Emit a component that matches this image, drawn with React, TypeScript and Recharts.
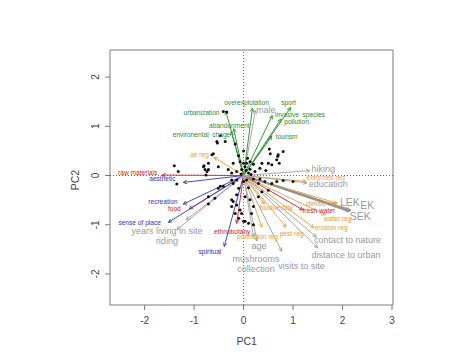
import React from 'react';
import { ScatterChart, Scatter, XAxis, YAxis, ReferenceLine, ReferenceArea } from 'recharts';

// variable loadings (arrow tips) and label anchors, in PC units
const varNames = [
  'urbanization', 'overexplotation', 'male', 'sport', 'invasive  species', 'pollution',
  'abandonment', 'environental  chage', 'tourism', 'air reg', 'raw materials', 'aesthetic',
  'recreation', 'food', 'sense of place', 'years living in site', 'riding', 'spiritual',
  'ethnobotany', 'pollination reg', 'age', 'mushrooms\ncollection', 'visits to site', 'pest reg',
  'biodiversity', 'distance to urban', 'contact to nature', 'erosion reg', 'water reg',
  'fresh water', 'climate reg', 'LEK', 'EK', 'SEK', 'extremes reg', 'hiking', 'education',
];
const varGroup = [
  'drv', 'drv', 'soc', 'drv', 'drv', 'drv',
  'drv', 'drv', 'drv', 'reg', 'prov', 'cul',
  'cul', 'prov', 'cul', 'soc', 'soc', 'cul',
  'prov', 'reg', 'soc', 'soc', 'soc', 'reg',
  'reg', 'soc', 'soc', 'reg', 'reg',
  'prov', 'reg', 'kn', 'kn', 'kn', 'reg', 'soc', 'soc',
];
const varPC1 = [
  -0.36, 0.18, 0.24, 0.95, 0.58, 0.76,
  -0.2, -0.25, 0.57, -0.6, -1.65, -1.22,
  -1.22, -1.1, -1.52, -1.35, -1.16, -0.39,
  -0.14, 0.37, 0.2, 0.27, 0.77, 0.86,
  0.42, 1.5, 1.47, 1.42, 1.65,
  1.2, 1.88, 2.12, 2.17, 2.14, 1.26, 1.34, 1.28,
];
const varPC2 = [
  1.31, 1.37, 1.32, 1.38, 1.22, 1.15,
  0.95, 0.89, 0.8, 0.37, 0.01, -0.14,
  -0.58, -0.68, -0.95, -1.1, -0.9, -1.44,
  -0.97, -1.05, -1.25, -1.33, -1.54, -1.05,
  -0.58, -1.47, -1.25, -1.06, -0.8,
  -0.7, -0.56, -0.69, -0.71, -0.73, -0.12, 0.1, -0.15,
];
const labelPC1 = [
  -0.85, 0.06, 0.45, 0.91, 1.14, 1.07,
  -0.29, -0.85, 0.87, -0.89, -2.14, -1.64,
  -1.63, -1.4, -2.1, -1.55, -1.55, -0.68,
  -0.23, 0.28, 0.31, 0.25, 1.17, 0.97,
  0.66, 2.07, 2.1, 1.77, 1.9,
  1.52, 1.58, 2.15, 2.5, 2.36, 1.66, 1.61, 1.71,
];
const labelPC2 = [
  1.3, 1.49, 1.34, 1.5, 1.26, 1.1,
  1.02, 0.85, 0.81, 0.43, 0.08, -0.05,
  -0.51, -0.66, -0.94, -1.12, -1.32, -1.54,
  -1.12, -1.23, -1.43, -1.8, -1.83, -1.17,
  -0.63, -1.62, -1.31, -1.05, -0.87,
  -0.71, -0.55, -0.53, -0.6, -0.83, -0.03, 0.14, -0.18,
];

// observation scores
const obsPC1 = [
  -0.41, -0.34, -0.47, -0.37, -0.54, -0.53, -0.17, -0.61, -0.64, -0.71, -0.8, -0.81, -0.78, -0.71, -0.76,
  -1.4, -1.32, -1.35, -0.51, -0.74,
  -0.21, -0.07, 0, 0.06, 0.13, 0.2, 0.37, 0.33, 0.23, 0.13, 0.03, -0.04, -0.14, -0.24, -0.31, 0.1, 0.05,
  -0.05, 0.15, 0.08, -0.1, 0.0,
  0.52, 0.54, 0.69, 0.8, 0.72, 0.5, 0.57, 0.67, 0.7, 0.45,
  -0.24, -0.21, -0.14, -0.1, 0, 0.06, 0.2, 0.3, 0.33, 0.43, 0.57, 0.67, -0.41, -0.51, -0.58, -0.71, -0.71,
  -0.47, -0.14, -0.21, -0.24, -0.14, -0.07, -0.17, -0.1, 0, 0.1, 0.2, 0.3, 0.37, 0.13, 0.03, -0.04, 0.16,
  0.2, 0.03, -0.24, 0.1, 0.5, 0.8, 1.0,
];
const obsPC2 = [
  1.3, 1.29, 0.81, 0.69, 0.69, 0.66, 0.64, 0.44, 0.42, 0.25, 0.2, 0.18, 0.12, 0.12, 0.01,
  0.2, 0.08, -0.17, 0.18, 0.08,
  0.25, 0.28, 0.25, 0.25, 0.28, 0.23, 0.25, 0.15, 0.08, 0.13, 0.18, 0.12, 0.08, 0.05, 0.12, 0.05, 0.1,
  0.03, 0.02, 0.35, 0.4, 0.5,
  0.54, 0.44, 0.39, 0.49, 0.25, 0.25, 0.22, 0.32, 0.42, 0.1,
  -0.09, -0.16, -0.09, -0.26, -0.12, -0.09, -0.07, -0.16, -0.07, -0.12, -0.16, -0.12, -0.22, -0.26, -0.46, -0.43, -0.58,
  -0.22, -0.39, -0.53, -0.63, -0.6, -0.7, -0.77, -0.87, -0.93, -0.97, -0.63, -0.43, -0.33, -0.49, -0.43, -0.77, -0.77,
  -1.0, -0.93, -0.49, -0.25, -0.3, -0.1, -0.12,
];

const xTicks = [-2, -1, 0, 1, 2, 3];
const yTicks = [-2, -1, 0, 1, 2];
const xDomain = [-2.7, 3.02];
const yDomain = [-2.63, 2.55];

const groupText: Record<string, string> = {
  drv: '#2e8b2e', cul: '#3232c0', prov: '#cc2424', reg: '#e6a030', soc: '#999999', kn: '#999999',
};
const groupLine: Record<string, string> = {
  drv: '#3a9a3a', cul: '#4646c8', prov: '#cc3838', reg: '#e8aa50', soc: '#a8a8a8', kn: '#939393',
};
const groupSize: Record<string, number> = {
  drv: 6.6, cul: 6.6, prov: 6.6, reg: 6.6, soc: 9, kn: 10.5,
};

const FONT = '"Liberation Sans", Arial, sans-serif';

const obsData = obsPC1.map((x, i) => ({ x, y: obsPC2[i] }));
const labelData = varNames.map((name, i) => ({ x: labelPC1[i], y: labelPC2[i], name, group: varGroup[i] }));

const makeArrow = (color: string, width: number) => (props: any) => {
  const { x1, y1, x2, y2 } = props;
  const ang = Math.atan2(y2 - y1, x2 - x1);
  const len = 4;
  const a1 = ang + Math.PI - 0.45;
  const a2 = ang + Math.PI + 0.45;
  return (
    <g>
      <line x1={x1} y1={y1} x2={x2} y2={y2} stroke={color} strokeWidth={width} />
      <line x1={x2} y1={y2} x2={x2 + len * Math.cos(a1)} y2={y2 + len * Math.sin(a1)} stroke={color} strokeWidth={1} />
      <line x1={x2} y1={y2} x2={x2 + len * Math.cos(a2)} y2={y2 + len * Math.sin(a2)} stroke={color} strokeWidth={1} />
    </g>
  );
};

const Dot = (p: any) => <circle cx={p.cx} cy={p.cy} r={1.5} fill="#111" />;

const Label = (p: any) => {
  const d = p.payload;
  const lines: string[] = String(d.name).split('\n');
  const fs = groupSize[d.group];
  const off = ((lines.length - 1) * fs * 1.15) / 2;
  return (
    <text
      x={p.cx}
      y={p.cy - off}
      fill={groupText[d.group]}
      fontSize={fs}
      fontFamily={FONT}
      textAnchor="middle"
      dominantBaseline="central"
      style={{ whiteSpace: 'pre' }}
    >
      {lines.map((l, i) => (
        <tspan key={i} x={p.cx} dy={i === 0 ? 0 : fs * 1.15}>{l}</tspan>
      ))}
    </text>
  );
};

const YTick = (p: any) => (
  <text
    x={p.x}
    y={p.y}
    transform={`rotate(-90 ${p.x} ${p.y})`}
    textAnchor="middle"
    fill="#444"
    fontSize={10}
    fontFamily={FONT}
  >
    {p.payload.value}
  </text>
);

export default function App() {
  return (
    <ScatterChart width={466} height={347} margin={{ top: 42, right: 81, bottom: 0, left: 0 }}>
      <XAxis
        type="number"
        dataKey="x"
        domain={xDomain}
        allowDataOverflow
        ticks={xTicks}
        interval={0}
        axisLine={false}
        tickLine={{ stroke: '#777' }}
        tickSize={5}
        tickMargin={7}
        tick={{ fill: '#444', fontSize: 10, fontFamily: FONT }}
        height={50}
      />
      <YAxis
        type="number"
        dataKey="y"
        domain={yDomain}
        allowDataOverflow
        ticks={yTicks}
        interval={0}
        axisLine={false}
        tickLine={{ stroke: '#777' }}
        tickSize={5}
        tickMargin={6}
        tick={<YTick />}
        width={102}
      />
      <ReferenceArea
        x1={xDomain[0]}
        x2={xDomain[1]}
        y1={yDomain[0]}
        y2={yDomain[1]}
        fill="none"
        fillOpacity={0}
        stroke="#7a7a7a"
        strokeWidth={1}
        ifOverflow="visible"
      />
      <ReferenceLine x={0} stroke="#666" strokeDasharray="1 2" />
      <ReferenceLine y={0} stroke="#666" strokeDasharray="1 2" />
      {varNames.map((n, i) => (
        <ReferenceLine
          key={n}
          segment={[{ x: 0, y: 0 }, { x: varPC1[i], y: varPC2[i] }]}
          ifOverflow="visible"
          shape={makeArrow(groupLine[varGroup[i]], varGroup[i] === 'kn' ? 1.4 : 1)}
        />
      ))}
      <Scatter data={obsData} shape={<Dot />} isAnimationActive={false} />
      <Scatter data={labelData} shape={<Label />} isAnimationActive={false} />
      <text x={238.7} y={333} textAnchor="middle" dominantBaseline="central" fontSize={10.5} fill="#444" fontFamily={FONT}>
        PC1
      </text>
      <text
        x={67}
        y={172}
        transform="rotate(-90 67 172)"
        textAnchor="middle"
        dominantBaseline="central"
        fontSize={10.5}
        fill="#444"
        fontFamily={FONT}
      >
        PC2
      </text>
    </ScatterChart>
  );
}
